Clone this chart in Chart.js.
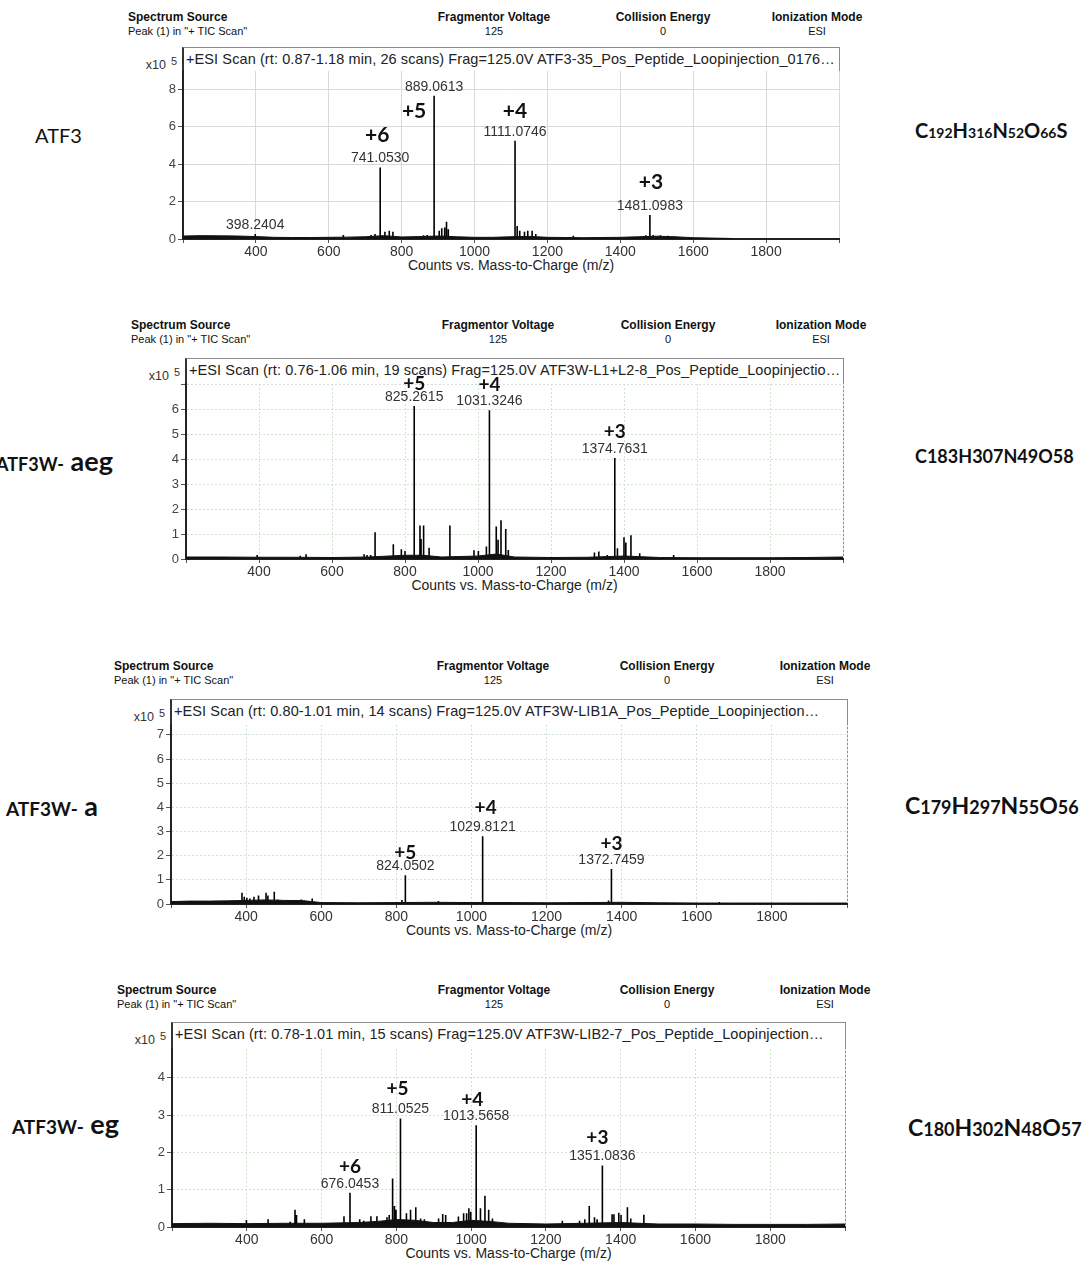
<!DOCTYPE html>
<html><head><meta charset="utf-8">
<script src="https://cdn.jsdelivr.net/npm/chart.js@4.4.1/dist/chart.umd.min.js"></script>
<style>
body{margin:0;background:#fff;width:1087px;height:1264px;position:relative;overflow:hidden;font-family:"Liberation Sans",Arial,sans-serif;}
.t{position:absolute;white-space:nowrap;line-height:1;}
.box{position:absolute;box-sizing:border-box;border:1px solid #8c8c8c;border-left:2px solid #333;}
canvas{position:absolute;}
</style></head><body>
<script>
// ================= DATA =================
const headerTitles = ['Spectrum Source', 'Fragmentor Voltage', 'Collision Energy', 'Ionization Mode'];
const headerValues = ['Peak (1) in "+ TIC Scan"', '125', '0', 'ESI'];
const scanTitles = [
  '+ESI Scan (rt: 0.87-1.18 min, 26 scans) Frag=125.0V ATF3-35_Pos_Peptide_Loopinjection_0176…',
  '+ESI Scan (rt: 0.76-1.06 min, 19 scans) Frag=125.0V ATF3W-L1+L2-8_Pos_Peptide_Loopinjectio…',
  '+ESI Scan (rt: 0.80-1.01 min, 14 scans) Frag=125.0V ATF3W-LIB1A_Pos_Peptide_Loopinjection…',
  '+ESI Scan (rt: 0.78-1.01 min, 15 scans) Frag=125.0V ATF3W-LIB2-7_Pos_Peptide_Loopinjection…'
];
const sampleNames = ['ATF3', 'ATF3W-', 'ATF3W-', 'ATF3W-'];
const sampleSuffix = ['', 'aeg', 'a', 'eg'];
const formulas = [
  [['C','192'],['H','316'],['N','52'],['O','66'],['S','']],
  [['C','183'],['H','307'],['N','49'],['O','58']],
  [['C','179'],['H','297'],['N','55'],['O','56']],
  [['C','180'],['H','302'],['N','48'],['O','57']]
];
const xAxisTitle = 'Counts vs. Mass-to-Charge (m/z)';
const yScaleLabel = 'x10';
const yScaleExp = '5';
const xTicks = [400, 600, 800, 1000, 1200, 1400, 1600, 1800];
const yTicks1 = [0, 2, 4, 6, 8];
const yTicks2 = [0, 1, 2, 3, 4, 5, 6];
const yTicks3 = [0, 1, 2, 3, 4, 5, 6, 7];
const yTicks4 = [0, 1, 2, 3, 4];

// Panel 1: ATF3  (intensity in x10^5 counts)
const mz1  = [398.2404, 640, 716, 727, 741.0530, 754, 766, 776, 860, 870, 889.0613, 903, 910, 918, 923, 928, 1111.0746, 1117, 1124, 1137, 1146, 1158, 1168, 1271, 1470, 1481.0983, 1490, 1510, 1530];
const int1 = [0.27, 0.21, 0.21, 0.27, 3.82, 0.39, 0.44, 0.39, 0.20, 0.22, 7.64, 0.44, 0.57, 0.62, 0.92, 0.52, 5.24, 0.69, 0.44, 0.39, 0.44, 0.44, 0.27, 0.18, 0.20, 1.28, 0.22, 0.20, 0.18];
const noiseX1 = [200, 250, 300, 350, 400, 450, 500, 550, 600, 650, 700, 750, 800, 850, 900, 950, 1000, 1050, 1100, 1150, 1200, 1250, 1300, 1350, 1400, 1450, 1500, 1550, 1600, 1650, 1700, 1710];
const noiseY1 = [0.16, 0.18, 0.17, 0.16, 0.13, 0.09, 0.08, 0.08, 0.09, 0.10, 0.12, 0.18, 0.11, 0.13, 0.16, 0.12, 0.09, 0.09, 0.12, 0.14, 0.09, 0.08, 0.07, 0.08, 0.09, 0.12, 0.15, 0.12, 0.07, 0.05, 0.03, 0];
const annMz1 = [398.2404, 741.0530, 889.0613, 1111.0746, 1481.0983];
const annZ1  = ['', '+6', '+5', '+4', '+3'];

// Panel 2: ATF3W-aeg
const mz2  = [395, 513, 529, 657, 688, 696, 706, 718, 768, 790, 800, 825.2615, 841, 844, 851, 866, 923, 989, 1001, 1023, 1031.3246, 1050, 1055, 1063, 1076, 1083, 1319, 1331, 1354, 1374.7631, 1382, 1400, 1405, 1419, 1443, 1536];
const int2 = [0.16, 0.13, 0.19, 0.07, 0.19, 0.16, 0.16, 1.07, 0.59, 0.39, 0.32, 6.12, 1.34, 0.80, 1.34, 0.45, 1.34, 0.35, 0.32, 0.50, 5.95, 1.30, 0.77, 1.55, 1.20, 0.36, 0.26, 0.30, 0.16, 4.04, 0.43, 0.87, 0.66, 0.95, 0.23, 0.16];
const noiseX2 = [200, 300, 400, 500, 600, 700, 800, 850, 900, 1000, 1050, 1100, 1200, 1300, 1400, 1500, 1600, 1700, 1800, 1900, 2000];
const noiseY2 = [0.08, 0.08, 0.07, 0.07, 0.06, 0.08, 0.15, 0.15, 0.08, 0.12, 0.20, 0.08, 0.06, 0.07, 0.12, 0.06, 0.05, 0.05, 0.05, 0.06, 0.08];
const annMz2 = [825.2615, 1031.3246, 1374.7631];
const annZ2  = ['+5', '+4', '+3'];

// Panel 3: ATF3W-a
const mz3  = [389, 395, 402, 410, 421, 433, 453, 458, 475, 484, 547, 576, 815, 824.0502, 912, 1029.8121, 1365, 1372.7459, 1660];
const int3 = [0.47, 0.30, 0.26, 0.23, 0.30, 0.35, 0.47, 0.35, 0.51, 0.19, 0.19, 0.23, 0.17, 1.19, 0.12, 2.80, 0.14, 1.45, 0.08];
const noiseX3 = [200, 250, 300, 350, 400, 450, 500, 550, 600, 700, 800, 900, 1000, 1100, 1200, 1300, 1400, 1500, 1600, 1700, 1800, 1900, 2000];
const noiseY3 = [0.10, 0.12, 0.12, 0.13, 0.15, 0.17, 0.15, 0.14, 0.06, 0.05, 0.06, 0.07, 0.06, 0.06, 0.05, 0.06, 0.07, 0.05, 0.04, 0.04, 0.04, 0.04, 0.04];
const annMz3 = [824.0502, 1029.8121, 1372.7459];
const annZ3  = ['+5', '+4', '+3'];

// Panel 4: ATF3W-eg
const mz4  = [399, 457, 516, 529, 533, 554, 660, 676.0453, 702, 713, 732, 748, 775, 781, 790, 795, 799, 811.0525, 827, 838, 852, 865, 875, 913, 924, 932, 966, 980, 988, 994, 999, 1013.5658, 1025, 1037, 1047, 1057, 1244, 1290, 1304, 1316, 1330, 1337, 1351.0836, 1377, 1382, 1395, 1401, 1418, 1427, 1462];
const int4 = [0.19, 0.21, 0.14, 0.46, 0.32, 0.21, 0.29, 0.92, 0.21, 0.17, 0.29, 0.29, 0.26, 0.32, 1.30, 0.56, 0.46, 2.91, 0.37, 0.46, 0.53, 0.23, 0.21, 0.23, 0.35, 0.32, 0.28, 0.37, 0.37, 0.50, 0.41, 2.73, 0.50, 0.84, 0.46, 0.23, 0.17, 0.17, 0.21, 0.56, 0.26, 0.21, 1.65, 0.34, 0.34, 0.38, 0.32, 0.53, 0.23, 0.33];
const noiseX4 = [200, 300, 400, 500, 600, 700, 750, 800, 850, 900, 950, 1000, 1050, 1100, 1200, 1300, 1400, 1450, 1500, 1600, 1700, 1800, 1900, 2000];
const noiseY4 = [0.09, 0.10, 0.09, 0.10, 0.10, 0.12, 0.15, 0.20, 0.18, 0.12, 0.12, 0.18, 0.15, 0.10, 0.08, 0.10, 0.12, 0.10, 0.08, 0.08, 0.07, 0.07, 0.07, 0.08];
const annMz4 = [676.0453, 811.0525, 1013.5658, 1351.0836];
const annZ4  = ['+6', '+5', '+4', '+3'];

const XMIN = 200, XMAX = 2000;

// ================= LAYOUT / STYLE =================
const FF = '"Liberation Sans", Arial, sans-serif';
const FC = "Lato, 'Open Sans', sans-serif";
const panels = [
  {mz: mz1, it: int1, nx: noiseX1, ny: noiseY1, am: annMz1, az: annZ1, yt: yTicks1, ymax: 8.96, ystep: 2,
   PL: 183, PR: 839, PT: 71, PB: 239, BT: 47, hy: 17, ssX: 128, cx: [494, 663, 817],
   grid: '#d9d9d9', dash: [], zSize: 21, zDy: [0, -32, 15, -30, -33], zDx: [0, -3, -20, 0, 1],
   name: {x: 35, y: 135, s1: 20, w1: 'normal', s2: 20}, form: {x: 915, y: 130, s1: 20, s2: 14}},
  {mz: mz2, it: int2, nx: noiseX2, ny: noiseY2, am: annMz2, az: annZ2, yt: yTicks2, ymax: 7.0, ystep: 1,
   PL: 186, PR: 843, PT: 384, PB: 559, BT: 358, hy: 325, ssX: 131, cx: [498, 668, 821],
   grid: '#cfe2cf', dash: [2, 2], zSize: 19, zDy: [-22, -25, -26], zDx: [0, 0, 0],
   name: {x: -4, y: 460, s1: 18, w1: 'bold', s2: 27}, form: {x: 915, y: 456, s1: 18, s2: 18}},
  {mz: mz3, it: int3, nx: noiseX3, ny: noiseY3, am: annMz3, az: annZ3, yt: yTicks3, ymax: 7.41, ystep: 1,
   PL: 171, PR: 847, PT: 725, PB: 904, BT: 699, hy: 666, ssX: 114, cx: [493, 667, 825],
   grid: '#cfe2cf', dash: [2, 2], zSize: 19, zDy: [-22, -28, -25], zDx: [0, 3, 0],
   name: {x: 6, y: 805, s1: 19, w1: 'bold', s2: 27}, form: {x: 905, y: 805, s1: 23, s2: 18}},
  {mz: mz4, it: int4, nx: noiseX4, ny: noiseY4, am: annMz4, az: annZ4, yt: yTicks4, ymax: 4.77, ystep: 1,
   PL: 172, PR: 845, PT: 1049, PB: 1227, BT: 1022, hy: 990, ssX: 117, cx: [494, 667, 825],
   grid: '#cfe2cf', dash: [2, 2], zSize: 19, zDy: [-26, -30, -25, -28], zDx: [0, -3, -4, -5],
   name: {x: 12, y: 1123, s1: 19, w1: 'bold', s2: 27}, form: {x: 908, y: 1127, s1: 23, s2: 18}}
];

function addText(html, x, y, css, align) {
  const d = document.createElement('div');
  d.className = 't';
  d.innerHTML = html;
  d.style.cssText += css;
  d.style.left = x + 'px';
  d.style.top = y + 'px';
  const tx = align === 'center' ? '-50%' : (align === 'right' ? '-100%' : '0');
  d.style.transform = 'translate(' + tx + ',-50%)';
  document.body.appendChild(d);
  return d;
}
function esc(s) { return s.replace(/&/g, '&amp;').replace(/</g, '&lt;').replace(/"/g, '&quot;'); }
function span(txt, weight, size) {
  return '<span style="font-family:' + FC.replace(/"/g, "'") + ';font-weight:' + weight + ';font-size:' + size + 'px">' + esc(txt) + '</span>';
}

panels.forEach((p, pi) => {
  // header
  addText(esc(headerTitles[0]), p.ssX, p.hy, 'font:bold 12px ' + FF + ';color:#111;', 'left');
  addText(esc(headerValues[0]), p.ssX, p.hy + 14, 'font:11px ' + FF + ';color:#111;', 'left');
  for (let k = 1; k < 4; k++) {
    addText(esc(headerTitles[k]), p.cx[k - 1], p.hy, 'font:bold 12px ' + FF + ';color:#111;', 'center');
    addText(esc(headerValues[k]), p.cx[k - 1], p.hy + 14, 'font:11px ' + FF + ';color:#111;', 'center');
  }
  // box
  const b = document.createElement('div');
  b.className = 'box';
  b.style.left = (p.PL - 1) + 'px'; b.style.top = p.BT + 'px';
  b.style.width = (p.PR - p.PL + 2) + 'px'; b.style.height = (p.PB - p.BT + 1) + 'px';
  document.body.appendChild(b);
  addText(esc(scanTitles[pi]), p.PL + 3, p.BT + 12, 'font:14.5px ' + FF + ';color:#222;letter-spacing:0.1px;', 'left');
  addText(yScaleLabel, p.PL - 17, p.BT + 18, 'font:12.5px ' + FF + ';color:#333;', 'right');
  addText(yScaleExp, p.PL - 12, p.BT + 14, 'font:11px ' + FF + ';color:#333;', 'left');
  addText(esc(xAxisTitle), (p.PL + p.PR) / 2, p.PB + 26, 'font:14px ' + FF + ';color:#222;', 'center');
  // sample name
  let nm = span(sampleNames[pi], p.name.w1, p.name.s1);
  if (sampleSuffix[pi]) nm += span(' ' + sampleSuffix[pi], 'bold', p.name.s2);
  addText(nm, p.name.x, p.name.y, 'color:#111;', 'left');
  // formula
  let fm = '';
  formulas[pi].forEach(([el, n]) => {
    fm += span(el, 'bold', p.form.s1);
    if (n) fm += span(n, 'bold', p.form.s2);
  });
  addText(fm, p.form.x, p.form.y, 'color:#111;', 'left');

  // canvas
  const LW = 60, TP = 40, RP = 20, XH = 20;
  const cv = document.createElement('canvas');
  const W = p.PR - p.PL + LW + RP, H = p.PB - p.PT + TP + XH;
  cv.width = W; cv.height = H;
  cv.style.left = (p.PL - LW) + 'px'; cv.style.top = (p.PT - TP) + 'px';
  cv.style.width = W + 'px'; cv.style.height = H + 'px';
  document.body.appendChild(cv);

  const sticks = [];
  p.mz.forEach((m, i) => { sticks.push({x: m, y: 0}, {x: m, y: p.it[i]}, {x: m, y: 0}); });
  const noise = p.nx.map((x, i) => ({x: x, y: p.ny[i]}));

  const anno = {
    id: 'anno' + pi,
    afterDatasetsDraw(chart) {
      const ctx = chart.ctx, xs = chart.scales.x, ys = chart.scales.y;
      ctx.save();
      ctx.textAlign = 'center'; ctx.textBaseline = 'middle';
      p.am.forEach((m, i) => {
        const h = p.it[p.mz.indexOf(m)];
        const px = xs.getPixelForValue(m), top = ys.getPixelForValue(h);
        ctx.fillStyle = '#333';
        ctx.font = '14px ' + FF;
        ctx.fillText(m.toFixed(4), px, top - 9);
        if (p.az[i]) {
          ctx.fillStyle = '#111';
          ctx.font = 'bold ' + p.zSize + 'px ' + FC;
          ctx.fillText(p.az[i], px + p.zDx[i], top + p.zDy[i]);
        }
      });
      ctx.restore();
    }
  };

  new Chart(cv, {
    type: 'line',
    data: {datasets: [
      {data: noise, parsing: false, fill: 'origin', backgroundColor: '#111', borderColor: '#111', borderWidth: 1, pointRadius: 0, tension: 0},
      {data: sticks, parsing: false, fill: false, borderColor: '#000', borderWidth: 1.6, pointRadius: 0, tension: 0}
    ]},
    options: {
      responsive: false, animation: false, events: [], devicePixelRatio: 1,
      layout: {padding: {left: 0, top: TP, right: RP, bottom: 0}},
      plugins: {legend: {display: false}, tooltip: {enabled: false}},
      scales: {
        x: {type: 'linear', min: XMIN, max: XMAX,
            afterFit: s => { s.height = XH; },
            ticks: {stepSize: 200, autoSkip: false, maxRotation: 0, padding: 1, color: '#333', font: {size: 14, family: FF},
                    callback: v => xTicks.includes(v) ? String(v) : ''},
            grid: {color: p.grid, lineWidth: 1, tickLength: 4, tickColor: '#555'},
            border: {display: true, color: '#222', width: 2, dash: p.dash}},
        y: {type: 'linear', min: 0, max: p.ymax,
            afterFit: s => { s.width = LW; },
            ticks: {stepSize: p.ystep, includeBounds: false, padding: 2, color: '#444', font: {size: 13, family: FF},
                    callback: v => p.yt.includes(v) ? String(v) : ''},
            grid: {color: p.grid, lineWidth: 1, tickLength: 5, tickColor: '#555'},
            border: {display: true, color: '#222', width: 2, dash: p.dash}}
      }
    },
    plugins: [anno]
  });
});
</script>
</body></html>
